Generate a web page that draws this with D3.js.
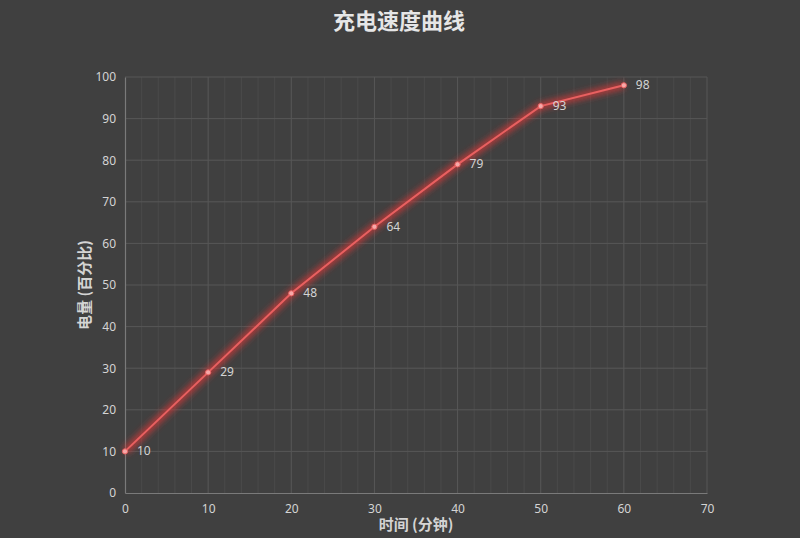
<!DOCTYPE html>
<html>
<head>
<meta charset="utf-8">
<script src="https://cdn.jsdelivr.net/npm/d3@7"></script>
<style>
  body { margin: 0; background: #404040; }
  text { font-family: "Noto Sans CJK SC", "Noto Sans", sans-serif; }
</style>
</head>
<body>
<div id="chart"></div>
<script>
// chart data
var minutes = [0, 10, 20, 30, 40, 50, 60];
var battery = [10, 29, 48, 64, 79, 93, 98];
var xTicks = [0, 10, 20, 30, 40, 50, 60, 70];
var yTicks = [0, 10, 20, 30, 40, 50, 60, 70, 80, 90, 100];

var svgWidth = 800;
var svgHeight = 538;

var margin = { top: 77, right: 93, bottom: 45, left: 125 };
var chartWidth = svgWidth - margin.left - margin.right;
var chartHeight = svgHeight - margin.top - margin.bottom;

var svg = d3.select("#chart")
    .append("svg")
    .attr("width", svgWidth)
    .attr("height", svgHeight);

svg.append("rect")
    .attr("width", svgWidth)
    .attr("height", svgHeight)
    .attr("fill", "#404040");

// glow filter for the line
var defs = svg.append("defs");
var glow = defs.append("filter")
    .attr("id", "glow")
    .attr("x", "-20%").attr("y", "-20%")
    .attr("width", "140%").attr("height", "140%");
glow.append("feGaussianBlur").attr("stdDeviation", 3);

var chartGroup = svg.append("g")
    .attr("transform", `translate(${margin.left}, ${margin.top})`);

var x = d3.scaleLinear().domain([0, 70]).range([0, chartWidth]);
var y = d3.scaleLinear().domain([0, 100]).range([chartHeight, 0]);

// minor vertical grid every 2 minutes
chartGroup.append("g")
    .selectAll("line")
    .data(d3.range(0, 71, 2).filter(d => d % 10 !== 0))
    .enter()
    .append("line")
    .attr("x1", d => x(d)).attr("x2", d => x(d))
    .attr("y1", 0).attr("y2", chartHeight)
    .attr("stroke", "#4a4a4a")
    .attr("stroke-width", 1);

// major grid
chartGroup.append("g")
    .selectAll("line")
    .data(xTicks.slice(1))
    .enter()
    .append("line")
    .attr("x1", d => x(d)).attr("x2", d => x(d))
    .attr("y1", 0).attr("y2", chartHeight)
    .attr("stroke", "#575757");

chartGroup.append("g")
    .selectAll("line")
    .data(yTicks.slice(1))
    .enter()
    .append("line")
    .attr("x1", 0).attr("x2", chartWidth)
    .attr("y1", d => y(d)).attr("y2", d => y(d))
    .attr("stroke", "#575757");

// axes
var bottomAxis = d3.axisBottom(x).tickValues(xTicks).tickSize(0).tickPadding(11);
var leftAxis = d3.axisLeft(y).tickValues(yTicks).tickSize(0).tickPadding(9);

var xAxisG = chartGroup.append("g")
    .attr("transform", `translate(0, ${chartHeight})`)
    .call(bottomAxis);
var yAxisG = chartGroup.append("g").call(leftAxis);

[xAxisG, yAxisG].forEach(function (g) {
    g.select(".domain").attr("stroke", "#7a7a7a").attr("stroke-width", 1.2);
    g.selectAll("text")
        .attr("fill", "#d4d4d4")
        .style("font-size", "12px")
        .style("font-family", "'Noto Sans', sans-serif");
});

// line with glow
var line = d3.line()
    .x((d, i) => x(minutes[i]))
    .y(d => y(d));

chartGroup.append("path")
    .datum(battery)
    .attr("d", line)
    .attr("fill", "none")
    .attr("stroke", "#d63a3a")
    .attr("stroke-opacity", 0.8)
    .attr("stroke-width", 7)
    .attr("filter", "url(#glow)");

chartGroup.append("path")
    .datum(battery)
    .attr("d", line)
    .attr("fill", "none")
    .attr("stroke", "#e86060")
    .attr("stroke-width", 2);

chartGroup.selectAll(".dot")
    .data(battery)
    .enter()
    .append("circle")
    .attr("class", "dot")
    .attr("cx", (d, i) => x(minutes[i]))
    .attr("cy", d => y(d))
    .attr("r", 2.6)
    .attr("fill", "#f7a8a8")
    .attr("stroke", "#e86060")
    .attr("stroke-width", 1);

// data labels
chartGroup.selectAll(".lbl")
    .data(battery)
    .enter()
    .append("text")
    .attr("class", "lbl")
    .attr("x", (d, i) => x(minutes[i]) + 12)
    .attr("y", d => y(d) + 4)
    .attr("fill", "#d4d4d4")
    .style("font-size", "12px")
    .style("font-family", "'Noto Sans', sans-serif")
    .text(d => d);

// title
svg.append("text")
    .attr("x", 399)
    .attr("y", 29)
    .attr("text-anchor", "middle")
    .attr("fill", "#e6e6e6")
    .style("font-size", "22px")
    .style("font-weight", "bold")
    .text("充电速度曲线");

// axis titles
svg.append("text")
    .attr("x", margin.left + chartWidth / 2)
    .attr("y", 530)
    .attr("text-anchor", "middle")
    .attr("fill", "#d4d4d4")
    .style("font-size", "15px")
    .style("font-weight", "bold")
    .text("时间 (分钟)");

svg.append("text")
    .attr("transform", `translate(90, ${margin.top + chartHeight / 2}) rotate(-90)`)
    .attr("text-anchor", "middle")
    .attr("fill", "#d4d4d4")
    .style("font-size", "15px")
    .style("font-weight", "bold")
    .text("电量 (百分比)");
</script>
</body>
</html>
